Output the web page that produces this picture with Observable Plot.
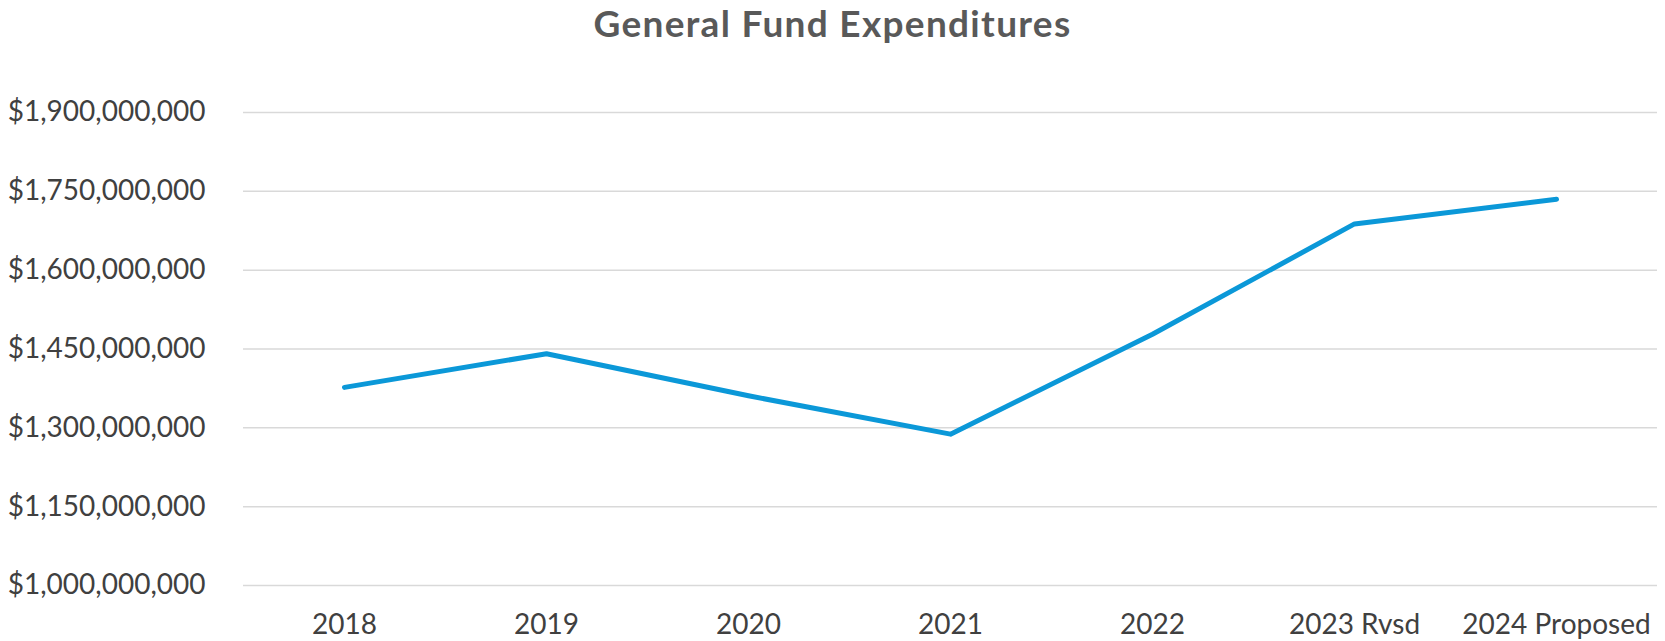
<!DOCTYPE html>
<html>
<head>
<meta charset="utf-8">
<script src="https://cdn.jsdelivr.net/npm/d3@7"></script>
<script src="https://cdn.jsdelivr.net/npm/@observablehq/plot@0.6"></script>
<style>
  html, body { margin: 0; padding: 0; background: #fff; }
  #title { width: 1665px; height: 56px; padding-top: 4px; text-align: center; font-family: Lato, "Open Sans", sans-serif; font-weight: bold; font-size: 37px; line-height: 37px; letter-spacing: 1.3px; color: #595959; }
</style>
</head>
<body>
<div id="title">General Fund Expenditures</div>
<div id="chart"></div>
<script>
const categories = ["2018", "2019", "2020", "2021", "2022", "2023 Rvsd", "2024 Proposed"];
const values = [1377000000, 1441000000, 1361000000, 1288000000, 1478000000, 1688000000, 1735000000];
const yTicks = [1000000000, 1150000000, 1300000000, 1450000000, 1600000000, 1750000000, 1900000000];

const data = categories.map((c, i) => ({cat: c, value: values[i]}));

const chart = Plot.plot({
  width: 1665,
  height: 581,
  marginTop: 52,
  marginBottom: 56,
  marginLeft: 243,
  marginRight: 8,
  style: {fontFamily: "Lato, 'Open Sans', sans-serif", fontSize: "28px", color: "#404040", background: "#fff"},
  x: {type: "point", domain: categories, padding: 0.5},
  y: {domain: [1000000000, 1900000000], nice: false},
  marks: [
    Plot.ruleY(yTicks, {stroke: "#d9d9d9", strokeWidth: 1.5, strokeOpacity: 1}),
    Plot.axisY({ticks: yTicks, tickFormat: d => "$" + d3.format(",")(d), tickSize: 0, tickPadding: 38, label: null}),
    Plot.axisX({tickSize: 0, tickPadding: 29, label: null}),
    Plot.line(data, {x: "cat", y: "value", stroke: "#0b98d8", strokeWidth: 5, strokeLinecap: "round", strokeLinejoin: "round"})
  ]
});
document.getElementById("chart").appendChild(chart);
</script>
</body>
</html>
